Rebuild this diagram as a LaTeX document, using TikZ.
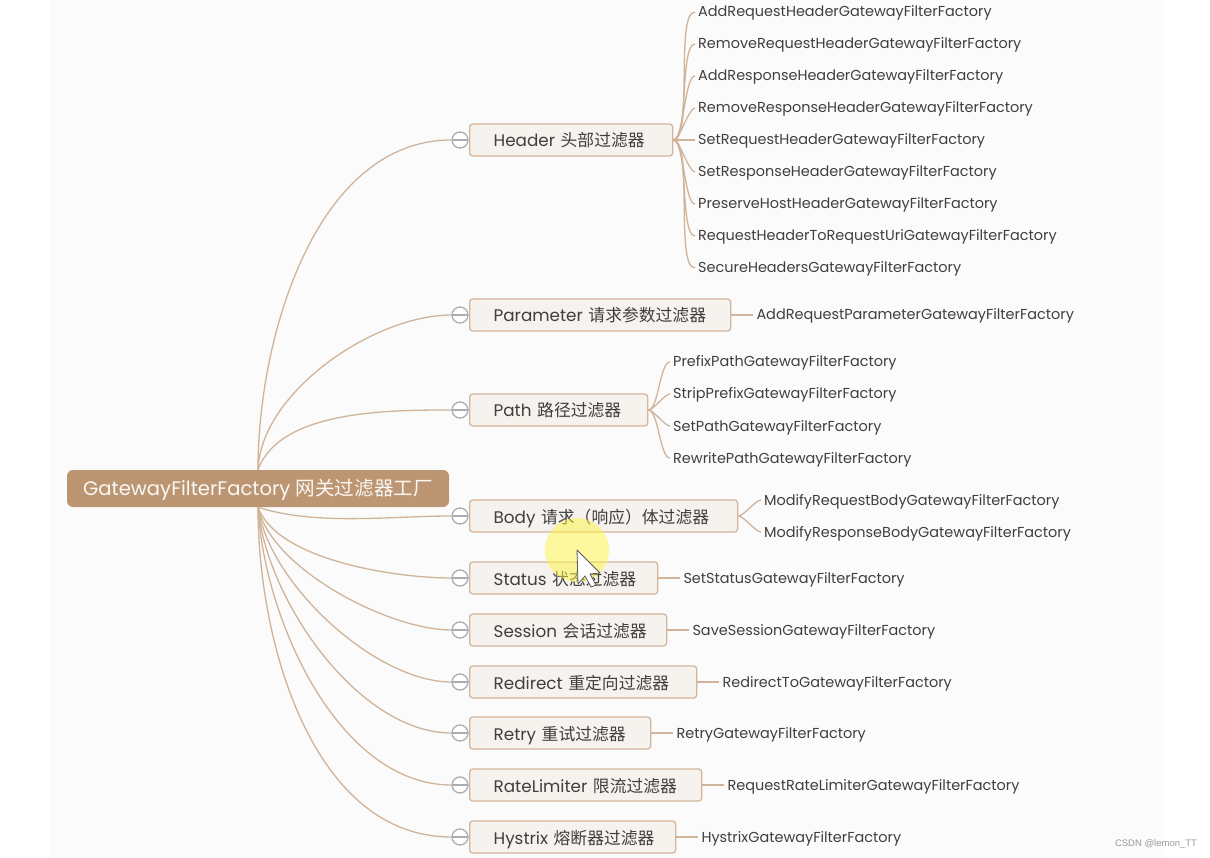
\documentclass[tikz,border=0pt]{standalone}
\usepackage{fontspec}
\setmainfont{Poppins}
\newfontfamily\cjk{Noto Sans CJK SC}
\newfontfamily\markfont{Liberation Sans}
\newcommand{\zh}[1]{{\cjk #1}}
\usetikzlibrary{positioning}
\definecolor{rootbrown}{HTML}{BC9673}
\definecolor{linktan}{HTML}{D0B49A}
\definecolor{boxfill}{HTML}{F6F2EE}
\definecolor{boxedge}{HTML}{D3B59C}
\definecolor{inktxt}{HTML}{3F3F3F}
\definecolor{paper}{HTML}{FBFBFB}
\definecolor{togedge}{HTML}{A9AEB5}
\tikzset{
  root/.style  ={rectangle, rounded corners=6pt, fill=rootbrown, text=white!92!rootbrown,
                 minimum width=382pt, minimum height=37pt, text height=15pt, text depth=2pt,
                 font=\fontsize{19.6}{22}\selectfont},
  branch/.style={rectangle, rounded corners=3pt, draw=boxedge, line width=1.3pt, fill=boxfill,
                 anchor=west, minimum height=32pt, inner xsep=24pt, inner ysep=0pt, align=left,
                 text height=15pt, text depth=1pt, text=inktxt, font=\fontsize{16.8}{19}\selectfont},
  leaf/.style  ={anchor=west, inner xsep=3pt, inner ysep=0pt, text height=12pt, text depth=2pt,
                 text=inktxt, font=\fontsize{14.45}{17}\selectfont},
  tog/.style   ={circle, draw=togedge, line width=1.3pt, fill=white, minimum size=16pt, inner sep=0pt,
                 path picture={\draw[togedge, line width=1.3pt] (path picture bounding box.west)--(path picture bounding box.east);}},
  lnk/.style   ={draw=linktan, line width=1.3pt},
}
\begin{document}
\begin{tikzpicture}[x=1pt,y=-1pt]
\useasboundingbox (0,0) rectangle (1210,858);
\fill[paper] (50,0) rectangle (1164,858);

\node[root] (gf) at (258,488.5) {GatewayFilterFactory \zh{网关过滤器工厂}};

% second level
\node[branch, text width=155pt] (hdr) at (469,140) {Header~\zh{头部过滤器}};
\node[branch, text width=213pt] (par) at (469,315) {Parameter~\zh{请求参数过滤器}};
\node[branch, text width=130pt] (pth) at (469,410) {Path~\zh{路径过滤器}};
\node[branch, text width=220pt] (bdy) at (469,516) {Body~\zh{请求（响应）体过滤器}};
\node[branch, text width=140pt] (sts) at (469,578) {Status~\zh{状态过滤器}};
\node[branch, text width=149pt] (ses) at (469,630) {Session~\zh{会话过滤器}};
\node[branch, text width=179pt] (rdr) at (469,682) {Redirect~\zh{重定向过滤器}};
\node[branch, text width=133pt] (rty) at (469,733) {Retry~\zh{重试过滤器}};
\node[branch, text width=184pt] (rlm) at (469,785) {RateLimiter~\zh{限流过滤器}};
\node[branch, text width=158pt] (hys) at (469,837) {Hystrix~\zh{熔断器过滤器}};

\node[tog] (thdr) at (460,140) {};
\node[tog] (tpar) at (460,315) {};
\node[tog] (tpth) at (460,410) {};
\node[tog] (tbdy) at (460,516) {};
\node[tog] (tsts) at (460,578) {};
\node[tog] (tses) at (460,630) {};
\node[tog] (trdr) at (460,682) {};
\node[tog] (trty) at (460,733) {};
\node[tog] (trlm) at (460,785) {};
\node[tog] (thys) at (460,837) {};

% leaves
\node[leaf] (h1) at (695,12)  {AddRequestHeaderGatewayFilterFactory};
\node[leaf] (h2) at (695,44)  {RemoveRequestHeaderGatewayFilterFactory};
\node[leaf] (h3) at (695,76)  {AddResponseHeaderGatewayFilterFactory};
\node[leaf] (h4) at (695,108) {RemoveResponseHeaderGatewayFilterFactory};
\node[leaf] (h5) at (695,140) {SetRequestHeaderGatewayFilterFactory};
\node[leaf] (h6) at (695,172) {SetResponseHeaderGatewayFilterFactory};
\node[leaf] (h7) at (695,204) {PreserveHostHeaderGatewayFilterFactory};
\node[leaf] (h8) at (695,236) {RequestHeaderToRequestUriGatewayFilterFactory};
\node[leaf] (h9) at (695,268) {SecureHeadersGatewayFilterFactory};
\node[leaf, right=22pt of par] (p1) {AddRequestParameterGatewayFilterFactory};
\node[leaf] (a1) at (670,362) {PrefixPathGatewayFilterFactory};
\node[leaf] (a2) at (670,394) {StripPrefixGatewayFilterFactory};
\node[leaf] (a3) at (670,426) {SetPathGatewayFilterFactory};
\node[leaf] (a4) at (670,458) {RewritePathGatewayFilterFactory};
\node[leaf] (b1) at (761,500) {ModifyRequestBodyGatewayFilterFactory};
\node[leaf] (b2) at (761,532) {ModifyResponseBodyGatewayFilterFactory};
\node[leaf, right=22pt of sts] (s1) {SetStatusGatewayFilterFactory};
\node[leaf, right=22pt of ses] (e1) {SaveSessionGatewayFilterFactory};
\node[leaf, right=22pt of rdr] (r1) {RedirectToGatewayFilterFactory};
\node[leaf, right=22pt of rty] (t1) {RetryGatewayFilterFactory};
\node[leaf, right=22pt of rlm] (l1) {RequestRateLimiterGatewayFilterFactory};
\node[leaf, right=22pt of hys] (y1) {HystrixGatewayFilterFactory};

\node[text=gray!80, font=\markfont\fontsize{9.5}{11}\selectfont] (wm) at (1156,843.5) {CSDN @lemon\_TT};

\draw[lnk] (gf.north) to[out=90,in=180,looseness=.9] (thdr.west);
\draw[lnk] (gf.north) to[out=88,in=180,looseness=.8] (tpar.west);
\draw[lnk] (gf.north) to[out=70,in=180,looseness=.8] (tpth.west);
\draw[lnk] (gf.south) to[out=-18,in=180,looseness=.8] (tbdy.west);
\draw[lnk] (gf.south) to[out=-70,in=180,looseness=.7] (tsts.west);
\draw[lnk] (gf.south) to[out=-78,in=180,looseness=.7] (tses.west);
\draw[lnk] (gf.south) to[out=-82,in=180,looseness=.75] (trdr.west);
\draw[lnk] (gf.south) to[out=-85,in=180,looseness=.8] (trty.west);
\draw[lnk] (gf.south) to[out=-87,in=180,looseness=.85] (trlm.west);
\draw[lnk] (gf.south) to[out=-90,in=180,looseness=.92] (thys.west);

\draw[lnk] (hdr.east) to[out=0,in=180,looseness=.4] (h1.west);
\draw[lnk] (hdr.east) to[out=0,in=180,looseness=.4] (h2.west);
\draw[lnk] (hdr.east) to[out=0,in=180,looseness=.4] (h3.west);
\draw[lnk] (hdr.east) to[out=0,in=180,looseness=.4] (h4.west);
\draw[lnk] (hdr.east) -- (h5.west);
\draw[lnk] (hdr.east) to[out=0,in=180,looseness=.4] (h6.west);
\draw[lnk] (hdr.east) to[out=0,in=180,looseness=.4] (h7.west);
\draw[lnk] (hdr.east) to[out=0,in=180,looseness=.4] (h8.west);
\draw[lnk] (hdr.east) to[out=0,in=180,looseness=.4] (h9.west);
\draw[lnk] (par.east) -- (p1.west);
\draw[lnk] (pth.east) to[out=0,in=180,looseness=.5] (a1.west);
\draw[lnk] (pth.east) to[out=0,in=180,looseness=.5] (a2.west);
\draw[lnk] (pth.east) to[out=0,in=180,looseness=.5] (a3.west);
\draw[lnk] (pth.east) to[out=0,in=180,looseness=.5] (a4.west);
\draw[lnk] (bdy.east) to[out=0,in=180,looseness=.5] (b1.west);
\draw[lnk] (bdy.east) to[out=0,in=180,looseness=.5] (b2.west);
\draw[lnk] (sts.east) -- (s1.west);
\draw[lnk] (ses.east) -- (e1.west);
\draw[lnk] (rdr.east) -- (r1.west);
\draw[lnk] (rty.east) -- (t1.west);
\draw[lnk] (rlm.east) -- (l1.west);
\draw[lnk] (hys.east) -- (y1.west);

% pointer highlight
\fill[yellow!75!white, opacity=.5] (577,550) circle (32);
\draw[fill=white, draw=gray!70!black, line width=.8pt, line join=round]
  (577,550) -- (578,584) -- (585,576) -- (591,587) -- (596,585) -- (590,574) -- (600,573) -- cycle;
\end{tikzpicture}
\end{document}
